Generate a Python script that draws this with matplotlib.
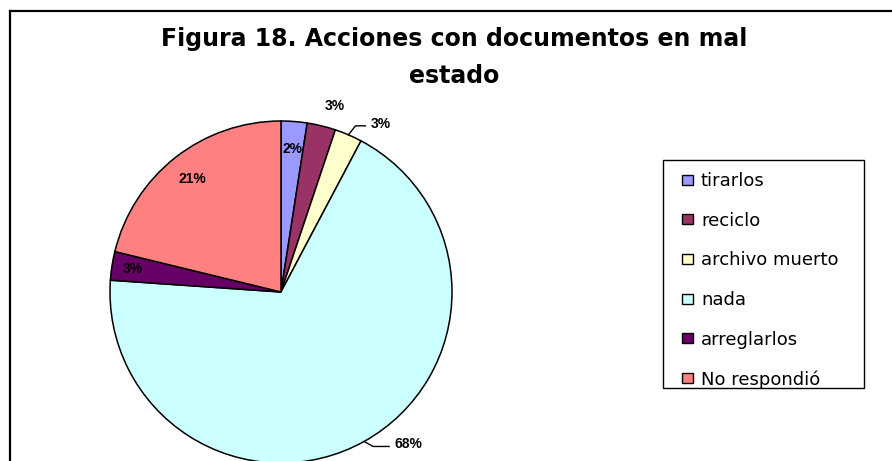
import matplotlib
matplotlib.use("Agg")
import matplotlib.pyplot as plt
import numpy as np
from matplotlib.lines import Line2D
from matplotlib.patches import Rectangle

plt.rcParams['font.family'] = ['Liberation Sans', 'DejaVu Sans']

categories = ['tirarlos', 'reciclo', 'archivo muerto', 'nada', 'arreglarlos', 'No respondió']
values = [2.45, 2.7, 2.6, 68.35, 2.7, 21.2]
colors = ['#9999FF', '#993366', '#FFFFCC', '#CCFFFF', '#660066', '#FF8080']

W, H = 892, 461
fig = plt.figure(figsize=(W / 100, H / 100), dpi=100)
ax = fig.add_axes([0, 0, 1, 1])

# pie drawn in pixel units (y up)
cx, cy, R = 281, H - 292, 171
wedges, _ = ax.pie(values, colors=colors, startangle=90, counterclock=False,
                   center=(cx, cy), radius=R,
                   wedgeprops=dict(edgecolor='black', linewidth=1.1))
ax.set_xlim(0, W)
ax.set_ylim(0, H)
ax.set_aspect('auto')
ax.axis('off')

total = sum(values)
pct = ['%d%%' % round(100 * v / total) for v in values]


def mid_point(w, r):
    a = np.deg2rad((w.theta1 + w.theta2) / 2)
    return cx + r * R * np.cos(a), cy + r * R * np.sin(a)


lab = dict(fontsize=10, fontweight='bold', clip_on=False)
# labels inside their slices
for i, r in [(0, 0.84), (4, 0.875), (5, 0.84)]:
    x, y = mid_point(wedges[i], r)
    ax.text(x, y, pct[i], ha='center', va='center', **lab)

# reciclo: just outside, no leader
x, y = mid_point(wedges[1], 1.08)
ax.text(x, y, pct[1], ha='left', va='bottom', **lab)

# archivo muerto and nada: leader lines
for i, (kx, ky, run) in {2: (7, 9, 10), 3: (9, -5, 16)}.items():
    ex, ey = mid_point(wedges[i], 1.0)
    ax.plot([ex, ex + kx, ex + kx + run], [ey, ey + ky, ey + ky],
            color='black', lw=1.0, clip_on=False)
    ax.text(ex + kx + run + 5, ey + ky + 2, pct[i], ha='left', va='center', **lab)

title = dict(ha='center', va='baseline', fontsize=17, fontweight='bold',
             family='DejaVu Sans')
fig.text(454 / W, 1 - 46 / H, 'Figura 18. Acciones con documentos en mal', **title)
fig.text(454 / W, 1 - 83 / H, 'estado', **title)

# legend frame + entries
fig.add_artist(Rectangle((663 / W, 1 - 388 / H), (864 - 663) / W, (388 - 160) / H,
                         transform=fig.transFigure, facecolor='white',
                         edgecolor='black', lw=1.0, zorder=2))
leg = fig.legend(wedges, categories, loc='upper left',
                 bbox_to_anchor=(682 / W, 1 - 172 / H), frameon=False,
                 prop=dict(family='DejaVu Sans', size=13),
                 handlelength=0.62, handleheight=0.48, handletextpad=0.43,
                 labelspacing=1.2, borderpad=0, borderaxespad=0)
leg.set_zorder(3)
for h in leg.legend_handles:
    h.set_edgecolor('black')
    h.set_linewidth(1.0)

# outer chart border (top and left edges visible)
fig.add_artist(Line2D([10 / W, 10 / W], [0, 1 - 11 / H], color='black', lw=1.6,
                      transform=fig.transFigure))
fig.add_artist(Line2D([10 / W, 1], [1 - 11 / H, 1 - 11 / H], color='black', lw=1.6,
                      transform=fig.transFigure))

fig.savefig('out.png', dpi=100)
